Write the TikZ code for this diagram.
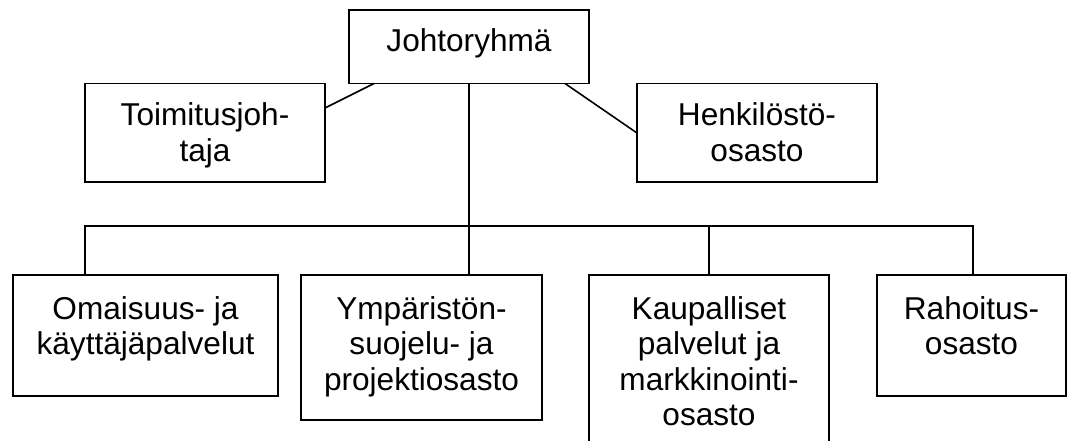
\documentclass[tikz,border=0pt]{standalone}
\usepackage{fontspec}
\setmainfont{Liberation Sans}
\newcommand\diafont{\fontsize{31.6}{35.5}\selectfont}
\newcommand\lines[1]{\begin{tabular}[t]{@{}c@{}}#1\end{tabular}}
\begin{document}
\begin{tikzpicture}[x=1pt,y=-1pt,
  box/.style={draw, line width=1.6pt, inner sep=0pt, outer sep=0pt},
  lbl/.style={anchor=base, inner sep=0pt, outer sep=0pt, font=\diafont},
  conn/.style={line width=1.6pt}]
\useasboundingbox (0,0) rectangle (1068,441);
\clip (0,0) rectangle (1068,441);
% boxes
\node[box, minimum width=240pt, minimum height=73.5pt] (J) at (469,46.75) {};
\node[box, minimum width=240pt, minimum height=98.5pt] (T) at (205,132.75) {};
\node[box, minimum width=240pt, minimum height=98.5pt] (H) at (757,132.75) {};
\node[box, minimum width=265pt, minimum height=121pt] (O) at (145.5,335.5) {};
\node[box, minimum width=241pt, minimum height=145pt] (Y) at (421.5,347.5) {};
\node[box, minimum width=240pt, minimum height=185pt] (K) at (709,367.5) {};
\node[box, minimum width=189pt, minimum height=121pt] (R) at (971.5,335.5) {};
% texts
\node[lbl] (Jt) at (469,52) {Johtoryhmä};
\node[lbl] (Tt) at (205,126) {\lines{Toimitusjoh-\\taja}};
\node[lbl] (Ht) at (757,126) {\lines{Henkilöstö-\\osasto}};
\node[lbl] (Ot) at (145.5,319) {\lines{Omaisuus- ja\\käyttäjäpalvelut}};
\node[lbl] (Yt) at (421.5,319) {\lines{Ympäristön-\\suojelu- ja\\projektiosasto}};
\node[lbl] (Kt) at (709,319) {\lines{Kaupalliset\\palvelut ja\\markkinointi-\\osasto}};
\node[lbl] (Rt) at (971.5,319) {\lines{Rahoitus-\\osasto}};
% connectors
\coordinate (bar) at (0,226);
\coordinate (dO) at ([xshift=72pt]O.north west);
\coordinate (dK) at ([xshift=120pt]K.north west);
\coordinate (dR) at ([xshift=96pt]R.north west);
\draw[conn] ([xshift=25pt]J.south west) -- ([yshift=-24.5pt]T.north east);
\draw[conn] ([xshift=-24pt]J.south east) -- ([yshift=-49.5pt]H.north west);
\draw[conn] (J.south) -- (J.south |- Y.north);
\draw[conn] (dO) -- (dO |- bar) -- (dR |- bar) -- (dR);
\draw[conn] (dK) -- (dK |- bar);
\end{tikzpicture}
\end{document}
